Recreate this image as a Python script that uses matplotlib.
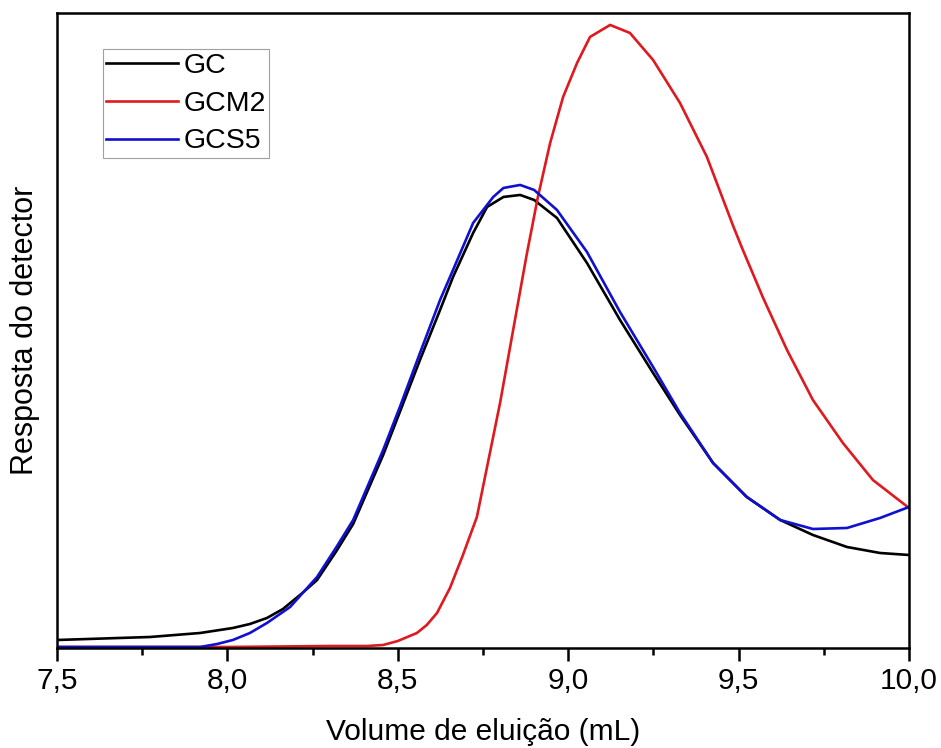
import numpy as np
import matplotlib
matplotlib.use("Agg")
import matplotlib.pyplot as plt

plt.rcParams['font.family'] = ['Liberation Sans', 'DejaVu Sans']

# detector response (arbitrary units)
gc_x = [7.5, 7.773, 7.92, 8.016, 8.066, 8.116, 8.163, 8.22, 8.263, 8.32,
        8.369, 8.457, 8.506, 8.565, 8.624, 8.662, 8.721, 8.762, 8.81, 8.859,
        8.9, 8.967, 9.055, 9.152, 9.249, 9.328, 9.425, 9.524, 9.622, 9.718,
        9.818, 9.915, 10.0]
gc_y = [8, 11, 15, 20, 24, 30, 39, 55, 68, 97,
        124, 193, 236, 288, 338, 371, 415, 441, 451, 453,
        448, 430, 385, 328, 275, 233, 185, 151, 128, 113,
        101, 95, 93]

gcm2_x = [7.5, 8.0, 8.3, 8.41, 8.457, 8.5, 8.556, 8.585, 8.615, 8.653,
          8.69, 8.732, 8.8, 8.849, 8.878, 8.911, 8.947, 8.985, 9.026, 9.064,
          9.123, 9.181, 9.249, 9.328, 9.407, 9.484, 9.51, 9.572, 9.642, 9.718,
          9.806, 9.894, 10.0]
gcm2_y = [1, 1, 2, 2, 3, 7, 15, 23, 35, 60,
          92, 131, 245, 338, 393, 451, 505, 551, 585, 611,
          623, 615, 588, 545, 491, 422, 400, 350, 298, 248,
          205, 168, 140]

gcs5_x = [7.5, 7.92, 7.97, 8.016, 8.066, 8.116, 8.184, 8.263, 8.32, 8.369,
          8.457, 8.506, 8.565, 8.624, 8.662, 8.721, 8.78, 8.81, 8.859, 8.9,
          8.967, 9.055, 9.152, 9.249, 9.328, 9.425, 9.524, 9.622, 9.718, 9.818,
          9.915, 10.0]
gcs5_y = [1, 1, 4, 8, 15, 25, 41, 71, 101, 128,
          198, 241, 295, 348, 378, 425, 451, 460, 463, 458,
          438, 396, 336, 281, 235, 185, 151, 128, 119, 120,
          130, 141]

xticks = [7.5, 8.0, 8.5, 9.0, 9.5, 10.0]
xtick_labels = ['7,5', '8,0', '8,5', '9,0', '9,5', '10,0']

fig = plt.figure(figsize=(9.41, 7.48), dpi=100)
ax = fig.add_axes([0.0606, 0.1337, 0.9054, 0.849])

ax.plot(gc_x, gc_y, color='black', lw=1.9, label='GC')
ax.plot(gcm2_x, gcm2_y, color='#e0191e', lw=1.9, label='GCM2')
ax.plot(gcs5_x, gcs5_y, color='#1010d0', lw=1.9, label='GCS5')

ax.set_xlim(7.5, 10.0)
ax.set_ylim(0, 635)
ax.set_xticks(xticks)
ax.set_xticklabels(xtick_labels)
ax.set_xticks(np.arange(7.75, 10.0, 0.5), minor=True)
ax.set_yticks([])
ax.tick_params(axis='x', which='major', direction='out', length=9, width=1.8,
               labelsize=21.5, pad=5)
ax.tick_params(axis='x', which='minor', direction='out', length=5, width=1.8)
for s in ax.spines.values():
    s.set_linewidth(1.8)

ax.set_xlabel('Volume de eluição (mL)', fontsize=21.5, labelpad=16)
ax.set_ylabel('Resposta do detector', fontsize=22, labelpad=12)

leg = ax.legend(loc='upper left', bbox_to_anchor=(0.054, 0.943), borderaxespad=0,
                fontsize=20.5, frameon=True, fancybox=False, handlelength=2.5,
                handletextpad=0.2, borderpad=0.12, labelspacing=0.42)
leg.get_frame().set_edgecolor('#888888')
leg.get_frame().set_linewidth(0.8)

fig.savefig('out.png', dpi=100)
